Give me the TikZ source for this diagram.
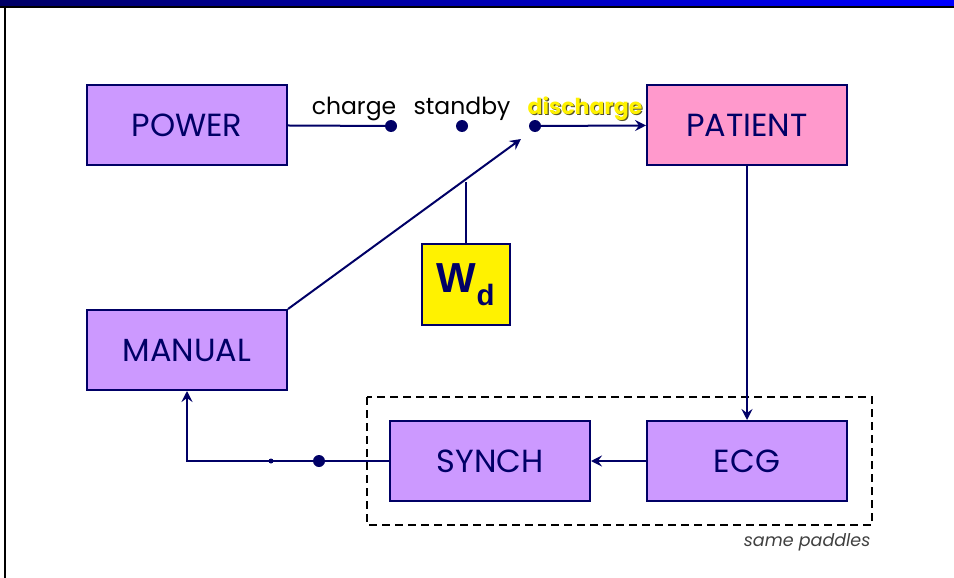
\documentclass[tikz,border=0pt]{standalone}
\usepackage{fontspec}
\setmainfont{Poppins}
\newfontfamily\arialfont{Liberation Sans}
\usetikzlibrary{positioning, calc, arrows.meta}
\definecolor{navyline}{HTML}{000066}
\definecolor{lavender}{HTML}{CC99FF}
\definecolor{pinkbox}{HTML}{FF99CC}
\newcommand{\shadowtext}[1]{\makebox[0pt][l]{\hspace{1.2pt}\raisebox{-1.2pt}{\color{olive!50!black}#1}}#1}

\begin{document}
\begin{tikzpicture}[
    x=1pt, y=-1pt,
    block/.style={rectangle, draw=navyline, line width=2pt, fill=lavender, text=navyline, minimum width=200pt, minimum height=80pt, font=\fontsize{32}{36}\selectfont},
    swdot/.style={circle, fill=navyline, inner sep=0pt, minimum size=12pt},
    swlabel/.style={font=\fontsize{23.5}{26}\selectfont, anchor=base},
    wire/.style={draw=navyline, line width=2pt},
    arrow/.style={wire, -{Stealth[length=11pt, width=11pt, inset=4pt]}}
]
\useasboundingbox (0,0) rectangle (954,578);
% title bar and frame
\shade[left color=navyline, right color=blue] (0,0) rectangle (954,6);
\fill[black] (0,6) rectangle (954,8.5);
\fill[black] (3.5,8.5) rectangle (5.5,578);

\node[block] (power) at (187,125) {POWER};
\node[block, fill=pinkbox] (patient) at (747,125) {PATIENT};
\node[block] (manual) at (187,350) {MANUAL};
\node[block] (synch) at (490,461) {SYNCH};
\node[block] (ecg) at (747,461) {ECG};
\node[rectangle, draw=navyline, line width=2pt, fill=yellow, text=navyline, minimum width=88pt, minimum height=81pt, font=\arialfont\bfseries\fontsize{42}{46}\selectfont] (wd) at (466,284.5) {W\textsubscript{d}};

% switch
\node[swdot] (chargedot) at (391,126) {};
\node[swdot] (standbydot) at (462,126) {};
\node[swdot] (dischargedot) at (535,126) {};
\node[swlabel] (charge) at (354,114) {charge};
\node[swlabel] (standby) at (462,114) {standby};
\node[swlabel, text=yellow, font=\bfseries\fontsize{22}{26}\selectfont] (discharge) at (585,114) {\shadowtext{discharge}};
\coordinate (swtip) at (521,139);

% paddles
\draw[black, line width=1.5pt, dash pattern=on 8pt off 5pt] (367,397) rectangle (872,525);
\node[font=\itshape\fontsize{17.5}{20}\selectfont, anchor=east, text=black!75] (paddles) at (874,542) {same paddles};

\node[swdot] (syncdot) at (319,461) {};
\node[circle, fill=navyline, inner sep=0pt, minimum size=5pt] (smalldot) at (271,461) {};

\draw[wire] (power) -- (chargedot);
\draw[arrow] (dischargedot) -- (patient);
\draw[arrow] (manual.north east) -- (swtip);
\coordinate (tap) at ($(manual.north east)!0.748!(swtip)$);
\draw[wire] (wd.north |- tap) -- (wd.north);
\draw[arrow] (patient) -- (ecg);
\draw[arrow] (ecg) -- (synch);
\draw[arrow] (synch) -| (manual);
\end{tikzpicture}
\end{document}
